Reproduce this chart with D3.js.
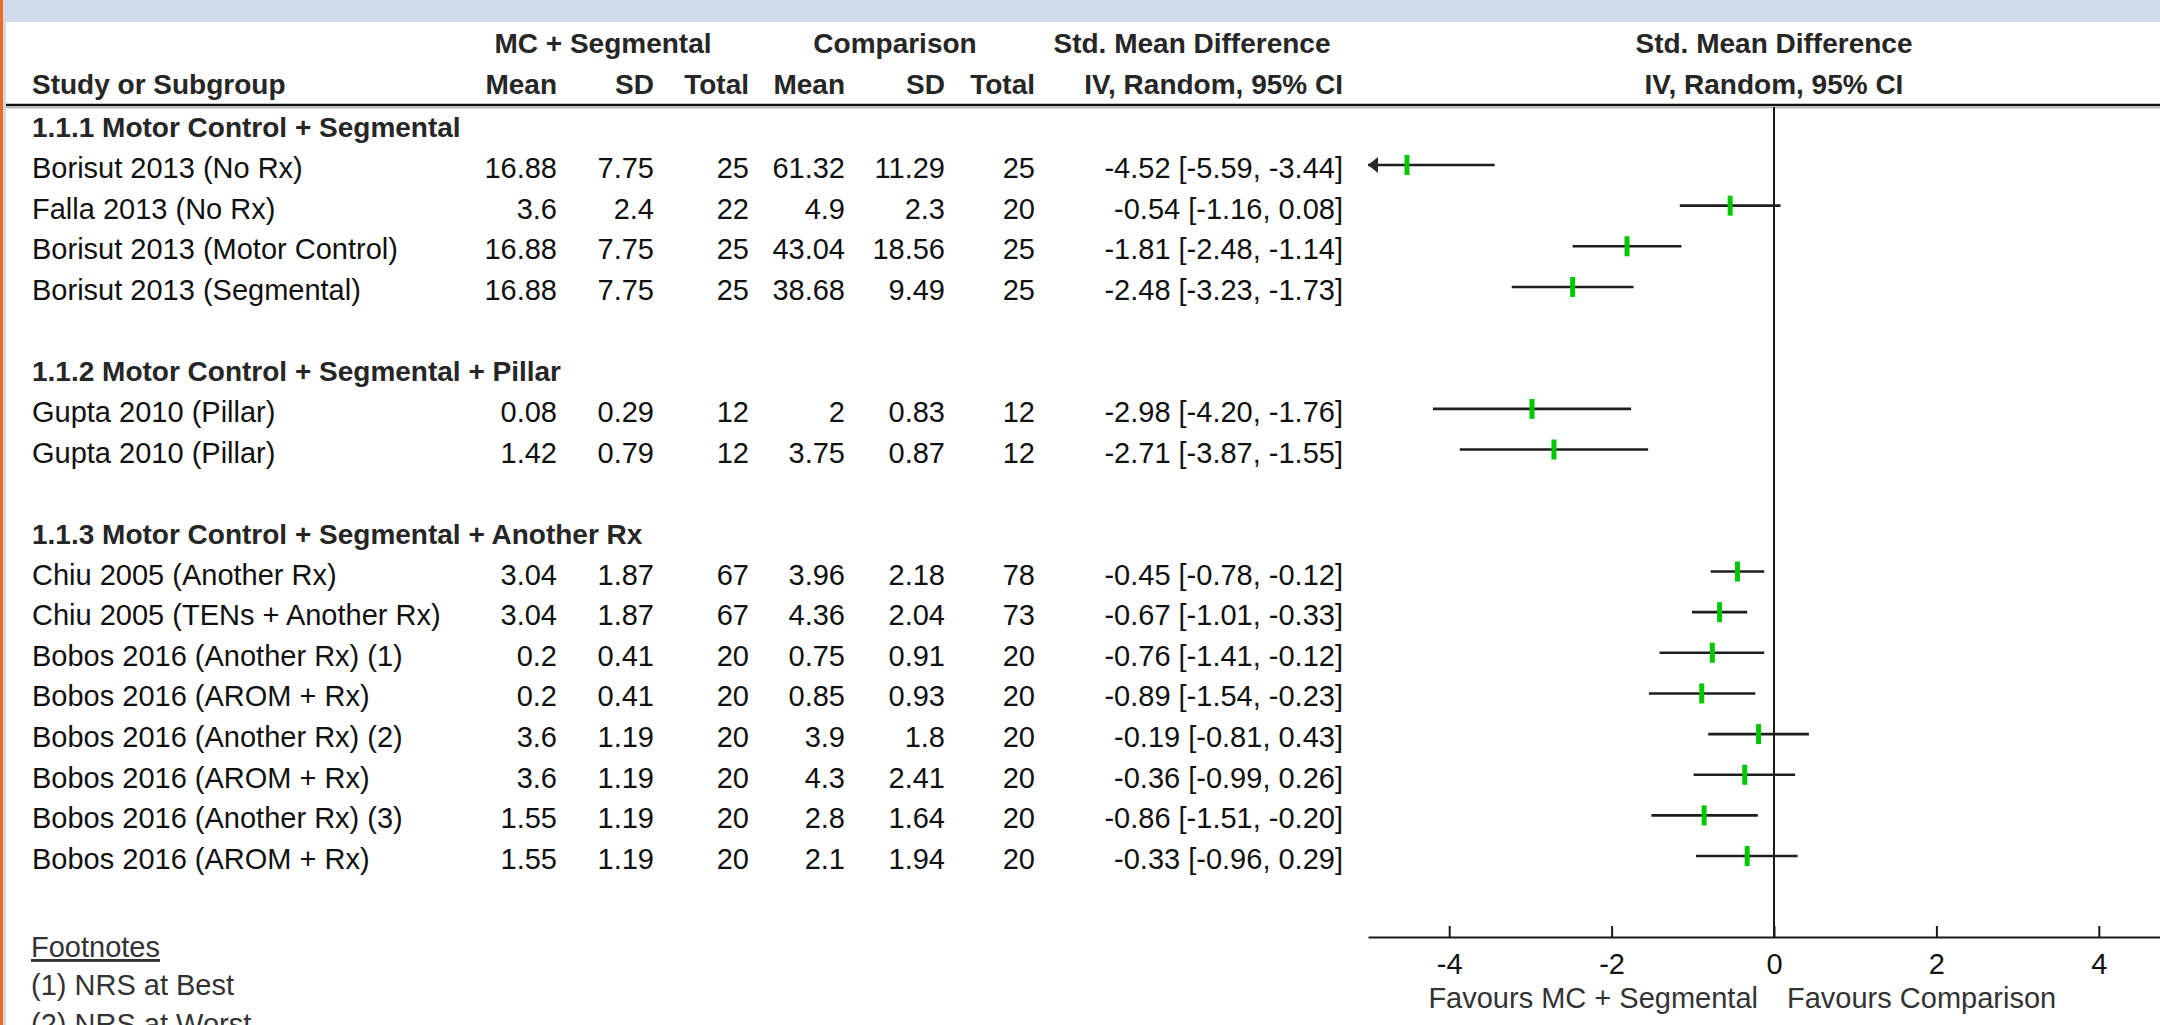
<!DOCTYPE html>
<html><head><meta charset="utf-8">
<script src="https://cdn.jsdelivr.net/npm/d3@7"></script>
<style>
html,body{margin:0;padding:0;background:#fff;overflow:hidden}
svg{display:block}
text{font-family:"Liberation Sans",Arial,Helvetica,sans-serif}
</style></head><body>
<svg id="chart" width="2160" height="1025"></svg>
<script>
// ---------------- data ----------------
const groups = [
  "1.1.1 Motor Control + Segmental",
  "1.1.2 Motor Control + Segmental + Pillar",
  "1.1.3 Motor Control + Segmental + Another Rx"
];
const studyGroup = [0,0,0,0,1,1,2,2,2,2,2,2,2,2];
const studies = [
  "Borisut 2013 (No Rx)", "Falla 2013 (No Rx)", "Borisut 2013 (Motor Control)", "Borisut 2013 (Segmental)",
  "Gupta 2010 (Pillar)", "Gupta 2010 (Pillar)",
  "Chiu 2005 (Another Rx)", "Chiu 2005 (TENs + Another Rx)", "Bobos 2016 (Another Rx) (1)", "Bobos 2016 (AROM + Rx)",
  "Bobos 2016 (Another Rx) (2)", "Bobos 2016 (AROM + Rx)", "Bobos 2016 (Another Rx) (3)", "Bobos 2016 (AROM + Rx)"
];
const meanExp  = [16.88, 3.6, 16.88, 16.88, 0.08, 1.42, 3.04, 3.04, 0.2, 0.2, 3.6, 3.6, 1.55, 1.55];
const sdExp    = [7.75, 2.4, 7.75, 7.75, 0.29, 0.79, 1.87, 1.87, 0.41, 0.41, 1.19, 1.19, 1.19, 1.19];
const totalExp = [25, 22, 25, 25, 12, 12, 67, 67, 20, 20, 20, 20, 20, 20];
const meanCmp  = [61.32, 4.9, 43.04, 38.68, 2, 3.75, 3.96, 4.36, 0.75, 0.85, 3.9, 4.3, 2.8, 2.1];
const sdCmp    = [11.29, 2.3, 18.56, 9.49, 0.83, 0.87, 2.18, 2.04, 0.91, 0.93, 1.8, 2.41, 1.64, 1.94];
const totalCmp = [25, 20, 25, 25, 12, 12, 78, 73, 20, 20, 20, 20, 20, 20];
const smd    = [-4.52, -0.54, -1.81, -2.48, -2.98, -2.71, -0.45, -0.67, -0.76, -0.89, -0.19, -0.36, -0.86, -0.33];
const ciLow  = [-5.59, -1.16, -2.48, -3.23, -4.20, -3.87, -0.78, -1.01, -1.41, -1.54, -0.81, -0.99, -1.51, -0.96];
const ciHigh = [-3.44, 0.08, -1.14, -1.73, -1.76, -1.55, -0.12, -0.33, -0.12, -0.23, 0.43, 0.26, -0.20, 0.29];
const axisTicks = [-4, -2, 0, 2, 4];
const axisDomain = [-5, 5];
const headerTop = ["MC + Segmental", "Comparison", "Std. Mean Difference", "Std. Mean Difference"];
const headerSub = ["Study or Subgroup", "Mean", "SD", "Total", "Mean", "SD", "Total", "IV, Random, 95% CI", "IV, Random, 95% CI"];
const favours = ["Favours MC + Segmental", "Favours Comparison"];
const footTitle = "Footnotes";
const footnotes = ["(1) NRS at Best", "(2) NRS at Worst"];

// ---------------- layout ----------------
const W = 2160, H = 1025;
const svg = d3.select("#chart");
const FS = 29, FSB = 28;
const txt = "#111111", hdr = "#262626";

// build row list
const rows = [];
groups.forEach((g, gi) => {
  if (gi > 0) rows.push({type: "blank"});
  rows.push({type: "group", label: g});
  studyGroup.forEach((sg, si) => { if (sg === gi) rows.push({type: "study", i: si}); });
});
const y = d3.scaleLinear().domain([0, 1]).range([165, 205.65]); // row index -> line centre
const x = d3.scaleLinear().domain(axisDomain).range([1368, 2180]);

// frame
svg.append("rect").attr("x", 0).attr("y", 0).attr("width", W).attr("height", H).attr("fill", "#cfdbe9");
svg.append("rect").attr("x", 6).attr("y", 22).attr("width", W - 6).attr("height", H - 22).attr("fill", "#ffffff");
svg.append("rect").attr("x", 0).attr("y", 0).attr("width", 3).attr("height", H).attr("fill", "#ef6a21");

// column positions (right edges)
const colRight = {mean1: 557, sd1: 654, tot1: 749, mean2: 845, sd2: 945, tot2: 1035, ci: 1343};

function t(str, xx, yy, opts = {}) {
  return svg.append("text").attr("x", xx).attr("y", yy)
    .attr("font-size", opts.size || (opts.bold ? FSB : FS))
    .attr("font-weight", opts.bold ? "bold" : "normal")
    .attr("text-anchor", opts.anchor || "start")
    .attr("fill", opts.fill || txt)
    .text(str);
}

// headers
const h1 = 53, h2 = 94;
t(headerTop[0], 603, h1, {bold: 1, anchor: "middle", fill: hdr});
t(headerTop[1], 895, h1, {bold: 1, anchor: "middle", fill: hdr});
t(headerTop[2], 1192, h1, {bold: 1, anchor: "middle", fill: hdr});
t(headerTop[3], x(0), h1, {bold: 1, anchor: "middle", fill: hdr});
t(headerSub[0], 32, h2, {bold: 1, fill: hdr});
[colRight.mean1, colRight.sd1, colRight.tot1, colRight.mean2, colRight.sd2, colRight.tot2, colRight.ci]
  .forEach((cx, k) => t(headerSub[k + 1], cx, h2, {bold: 1, anchor: "end", fill: hdr}));
t(headerSub[8], x(0), h2, {bold: 1, anchor: "middle", fill: hdr});

// double rule
svg.append("line").attr("x1", 6).attr("x2", W).attr("y1", 105).attr("y2", 105).attr("stroke", "#111").attr("stroke-width", 2.5);
svg.append("line").attr("x1", 6).attr("x2", W).attr("y1", 107.8).attr("y2", 107.8).attr("stroke", "#9a9a9a").attr("stroke-width", 1);

// zero line
svg.append("line").attr("x1", x(0)).attr("x2", x(0)).attr("y1", 107).attr("y2", 937)
  .attr("stroke", "#1a1a1a").attr("stroke-width", 2);

// rows
rows.forEach((r, idx) => {
  const ri = idx - 1; // first group header at -1
  const yl = y(ri), yb = yl + 13;
  if (r.type === "group") {
    t(r.label, 32, yb, {bold: 1, fill: hdr});
  } else if (r.type === "study") {
    const i = r.i;
    t(studies[i], 32, yb);
    t(String(meanExp[i]), colRight.mean1, yb, {anchor: "end"});
    t(String(sdExp[i]), colRight.sd1, yb, {anchor: "end"});
    t(String(totalExp[i]), colRight.tot1, yb, {anchor: "end"});
    t(String(meanCmp[i]), colRight.mean2, yb, {anchor: "end"});
    t(String(sdCmp[i]), colRight.sd2, yb, {anchor: "end"});
    t(String(totalCmp[i]), colRight.tot2, yb, {anchor: "end"});
    t(`${smd[i].toFixed(2)} [${ciLow[i].toFixed(2)}, ${ciHigh[i].toFixed(2)}]`, colRight.ci, yb, {anchor: "end"});
    // CI line
    const lo = Math.max(ciLow[i], axisDomain[0]), hi = Math.min(ciHigh[i], axisDomain[1]);
    svg.append("line").attr("x1", x(lo)).attr("x2", x(hi)).attr("y1", yl).attr("y2", yl)
      .attr("stroke", "#1e1e1e").attr("stroke-width", 2.6);
    if (ciLow[i] < axisDomain[0]) {
      const ax = x(axisDomain[0]);
      svg.append("path").attr("d", `M${ax},${yl} L${ax + 10},${yl - 8} L${ax + 10},${yl + 8} Z`).attr("fill", "#2a2a2a");
    }
    if (ciHigh[i] > axisDomain[1]) {
      const ax = x(axisDomain[1]);
      svg.append("path").attr("d", `M${ax},${yl} L${ax - 10},${yl - 8} L${ax - 10},${yl + 8} Z`).attr("fill", "#2a2a2a");
    }
    svg.append("rect").attr("x", x(smd[i]) - 2.5).attr("y", yl - 10).attr("width", 5).attr("height", 20)
      .attr("fill", "#00c800");
  }
});

// axis
const axisG = svg.append("g").attr("transform", "translate(0,937)")
  .call(d3.axisBottom(x).tickValues(axisTicks).tickFormat(d => String(d)).tickSize(-11).tickSizeOuter(0).tickPadding(16));
axisG.select(".domain").attr("stroke", "#1a1a1a").attr("stroke-width", 2.2);
axisG.selectAll(".tick line").attr("stroke", "#1a1a1a").attr("stroke-width", 2);
axisG.selectAll(".tick text").attr("font-size", FS).attr("fill", txt)
  .attr("font-family", '"Liberation Sans",Arial,sans-serif');

t(favours[0], x(0) - 16, 1008, {anchor: "end", fill: "#333"});
t(favours[1], x(0) + 13, 1008, {fill: "#333"});

// footnotes
t(footTitle, 31, 957, {fill: "#333"}).attr("text-decoration", "underline");
footnotes.forEach((f, k) => t(f, 31, 995 + 38.5 * k, {fill: "#333"}));
</script>
</body></html>
